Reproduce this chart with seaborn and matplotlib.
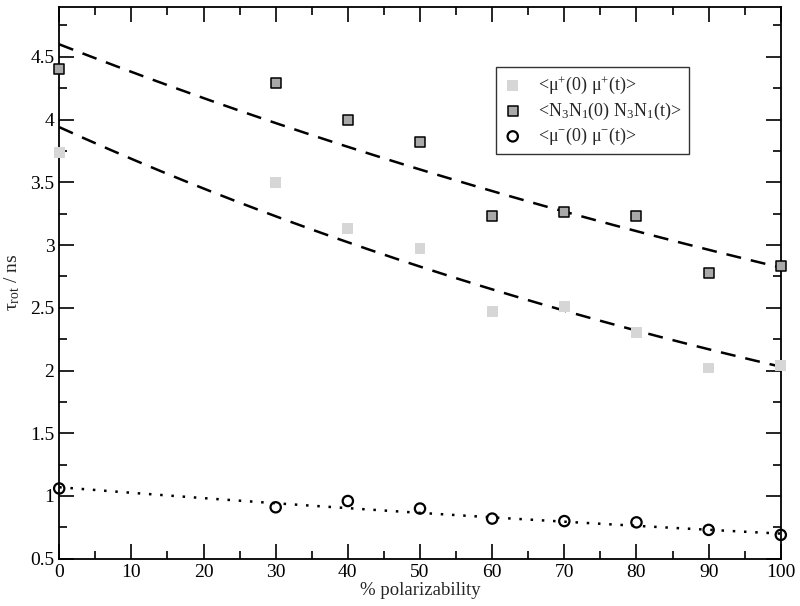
import matplotlib
matplotlib.use("Agg")
import matplotlib.pyplot as plt
import numpy as np
import pandas as pd
import seaborn as sns
from matplotlib.ticker import MultipleLocator

# % polarizability and rotational correlation times (ns)
polar = [0, 30, 40, 50, 60, 70, 80, 90, 100]
tau_mu_plus = [3.74, 3.50, 3.13, 2.97, 2.47, 2.51, 2.30, 2.02, 2.04]
tau_n3n1 = [4.40, 4.29, 4.00, 3.82, 3.23, 3.26, 3.23, 2.78, 2.83]
tau_mu_minus = [1.06, 0.91, 0.96, 0.90, 0.82, 0.80, 0.79, 0.73, 0.69]

labels = [r"<μ$^{+}$(0) μ$^{+}$(t)>",
          r"<N$_3$N$_1$(0) N$_3$N$_1$(t)>",
          r"<μ$^{-}$(0) μ$^{-}$(t)>"]

# exponential fit curves a*exp(-k*x), parameters
fit_amp = [3.94, 4.60, 1.07]
fit_rate = [0.00663, 0.00489, 0.00424]
fit_style = [(0, (6, 4)), (0, (6, 4)), (0, (1, 3.5))]

sns.set_theme(style="ticks")
plt.rcParams["font.family"] = ["Liberation Serif", "DejaVu Serif"]
plt.rcParams["mathtext.fontset"] = "custom"
plt.rcParams["mathtext.rm"] = "Liberation Serif"
plt.rcParams["mathtext.it"] = "Liberation Serif:italic"

df = pd.DataFrame({"polar": polar * 3,
                   "tau": tau_mu_plus + tau_n3n1 + tau_mu_minus,
                   "series": [labels[0]] * 9 + [labels[1]] * 9 + [labels[2]] * 9})

fig = plt.figure(figsize=(8, 6.06), dpi=100)
ax = fig.add_axes([0.074, 0.078, 0.902, 0.911])

xs = np.linspace(0, 100, 200)
for amp, rate, ls in zip(fit_amp, fit_rate, fit_style):
    sns.lineplot(x=xs, y=amp * np.exp(-rate * xs), ax=ax, color="black",
                 lw=1.8, linestyle=ls, legend=False)

marker_kw = [dict(marker="s", s=62, color="#d6d6d6", edgecolor="none"),
             dict(marker="s", s=62, color="#a9a9a9", edgecolor="black", linewidth=1.1),
             dict(marker="o", s=55, facecolor="none", edgecolor="black", linewidth=1.6)]
for lab, kw in zip(labels, marker_kw):
    sub = df[df["series"] == lab]
    sns.scatterplot(data=sub, x="polar", y="tau", ax=ax, label=lab, zorder=3,
                    clip_on=False, **kw)

ax.set_xlim(0, 100)
ax.set_ylim(0.5, 4.9)
ax.xaxis.set_major_locator(MultipleLocator(10))
ax.xaxis.set_minor_locator(MultipleLocator(5))
ax.yaxis.set_minor_locator(MultipleLocator(0.25))
ax.set_yticks([0.5, 1, 1.5, 2, 2.5, 3, 3.5, 4, 4.5])
ax.set_yticklabels(["0.5", "1", "1.5", "2", "2.5", "3", "3.5", "4", "4.5"])
ax.tick_params(which="both", direction="in", top=True, right=True,
               labelsize=14, width=1.2, colors="black")
ax.tick_params(which="major", length=11)
ax.tick_params(which="minor", length=6)
for sp in ax.spines.values():
    sp.set_linewidth(1.3)
    sp.set_color("black")

ax.set_xlabel("% polarizability", fontsize=13.5, labelpad=1)
ax.set_ylabel(r"τ$_{\mathrm{rot}}$ / ns", fontsize=14, labelpad=6)

leg = ax.legend(loc="upper left", bbox_to_anchor=(0.606, 0.891), fontsize=13,
                frameon=True, fancybox=False, edgecolor="black",
                borderpad=0.4, handletextpad=0.9, labelspacing=0.25,
                handlelength=1.0, borderaxespad=0)
leg.get_frame().set_linewidth(1.0)

fig.savefig("out.png", dpi=100)
